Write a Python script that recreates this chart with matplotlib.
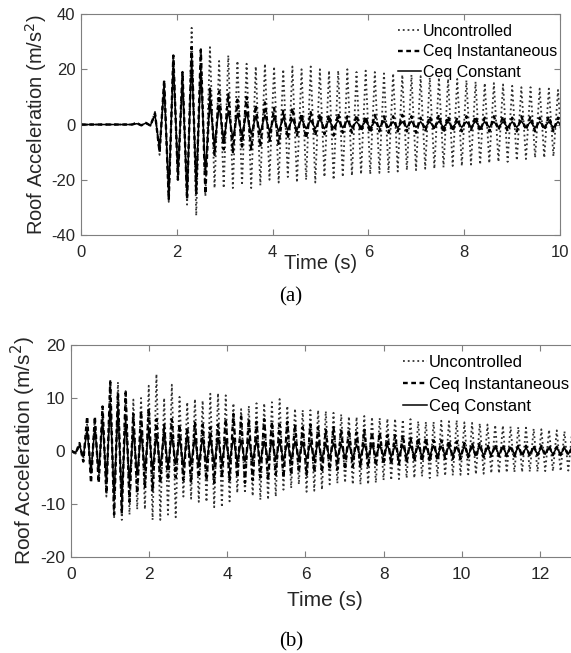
import numpy as np
import matplotlib.pyplot as plt

plt.rcParams['font.family'] = ['Liberation Sans', 'DejaVu Sans']
plt.rcParams['axes.unicode_minus'] = False

labels = ['Uncontrolled', 'Ceq Instantaneous', 'Ceq Constant']

# panel (a): time of first listed peak and oscillation period (s)
a_t0 = 0.971
a_period = 0.1912
# successive positive peaks / negative troughs per cycle (m/s^2)
a_unc_peaks = [0, 0.8, 0.6, 4.6, 16, 25, 19, 35, 28, 28, 23, 25, 23, 22, 21, 22, 21, 20, 21, 20,
               21, 20, 19.5, 19.5, 20, 19, 19.5, 19, 18.5, 18.5, 18, 18, 17.5, 17, 17, 16.5, 16.5,
               16, 15.5, 15, 15, 14.5, 14, 13.5, 13.5, 13, 13, 12.5, 12.5]
a_unc_troughs = [0, -0.4, -0.5, -11, -28, -20, -29, -33, -26, -23, -23, -23, -22, -23, -22, -20,
                 -21, -19, -21, -20, -21, -19, -20, -19, -18.5, -18, -18, -17.5, -17.5, -17, -16.5,
                 -16.5, -16, -16, -15.5, -15, -15, -14.5, -14.5, -14, -13.5, -13.5, -13, -12.5, -12,
                 -12, -11.5, -11.5]
a_ins_peaks = [0, 0.5, 0.6, 4, 16, 25, 19, 28, 27, 13, 12, 11, 9, 10, 7, 8, 6, 5, 6, 4, 4.5, 4,
               3.5, 4, 3, 3.5, 3, 3.5, 3, 3, 3.5, 3, 2.5, 3, 3.5, 3, 2.5, 3, 3, 2.5, 3, 3, 2.5, 3,
               3, 2.5, 3, 2.5, 2.5]
a_ins_troughs = [0, -0.3, -0.4, -10, -27, -20, -27, -25, -25, -11, -9, -10, -8, -9, -8, -6, -7, -5,
                 -4, -5, -4, -3.5, -4, -3, -3, -2.5, -3, -2.5, -3, -2.5, -2.5, -3, -2.5, -2, -3,
                 -2.5, -2.5, -2, -2.5, -2.5, -2, -2.5, -2.5, -2, -2.5, -2, -2.5, -2]
a_con_peaks = [0, 0.3, 0.5, 3.5, 14, 23, 17, 24, 20, 9, 7, 5, 4, 4.5, 3, 3.5, 2.5, 2.5, 2, 2, 1.5,
               2, 1.5, 1.5, 1.5, 1, 1.2, 1, 1.2, 1, 1, 1.2, 1, 1, 1.2, 1, 1, 1, 1.2, 1, 1, 1, 1,
               1.2, 1, 1, 1, 1, 1]
a_con_troughs = [0, -0.2, -0.3, -9, -25, -18, -26, -22, -18, -8, -6, -5, -4, -3.5, -3, -2.5, -2.5,
                 -2, -2, -1.5, -1.5, -1.5, -1.2, -1.2, -1, -1, -1.2, -1, -1, -1.2, -1, -1, -1,
                 -1.2, -1, -1, -1, -1, -1.2, -1, -1, -1, -1, -1, -1.2, -1, -1, -1]

# panel (b)
b_t0 = 0.02
b_period = 0.197
b_unc_peaks = [0, 1, 5, 6, 7.5, 13.5, 13, 11.3, 9.7, 10,
               12.3, 14.5, 10, 12.5, 10.2, 9.2, 9.8, 9.5, 10.8, 10.9,
               10.5, 9, 7.9, 8.5, 9, 9, 9.2, 9.8, 8.5, 8,
               7.7, 7.7, 7.7, 7.5, 7.2, 6.9, 6.5, 6.4, 6.6, 6.4,
               6.2, 6.1, 6.1, 5.9, 6, 5.6, 5.5, 5.5, 5.7, 5.6,
               5.8, 5.4, 5.3, 5.2, 5, 4.9, 4.8, 4.6, 4.5, 4.4,
               4.2, 4.1, 4, 3.9, 3.7, 3.6]
b_unc_troughs = [-0.5, -1.5, -4.5, -5.5, -8.6, -12.7, -13, -12, -11, -11,
                 -13, -13, -12, -12.5, -8.6, -9, -9.6, -9.6, -10.6, -10.6,
                 -9.5, -7.9, -8, -8.5, -9.2, -9.2, -8.6, -7.3, -7, -6.3,
                 -7.7, -7.5, -7.3, -6.3, -6.1, -6, -6.3, -6.3, -6.3, -6,
                 -5.5, -5.5, -5.3, -5.1, -5.1, -4.8, -5.1, -4.8, -4.7, -4.6,
                 -4.5, -4.4, -4.4, -4.3, -4.2, -4.2, -4.1, -4, -4, -3.9,
                 -3.9, -3.8, -3.8, -3.8, -3.7, -3.7]
b_ins_peaks = [0, 1.5, 6.5, 6.5, 8.4, 13, 11, 11, 7, 7.5,
               8, 6, 5, 6, 5, 4.5, 5.5, 5, 4.5, 5,
               6, 7, 6.5, 6, 5.5, 6, 5.5, 5, 5.5, 5,
               4.5, 5, 4.5, 4, 4.5, 4, 4, 3.5, 4, 3.5,
               3.5, 3, 3, 3, 2.5, 2.5, 2.5, 2, 2, 2,
               1.8, 1.5, 1.5, 1.5, 1.2, 1.2, 1.2, 1, 1, 1,
               1, 1, 1, 0.8, 0.8, 0.8]
b_ins_troughs = [-0.5, -2, -6, -6, -8, -12, -11.8, -9.6, -8, -7,
                 -7.5, -6, -5.5, -5, -5.5, -6, -5, -5.5, -6, -5,
                 -5.5, -5, -6, -5.5, -5, -5.5, -4.5, -5, -4.5, -4,
                 -4.5, -4, -4, -3.5, -3.5, -3.5, -3, -3, -3, -2.8,
                 -2.5, -2.5, -2.5, -2.2, -2, -2, -2, -1.8, -1.5, -1.5,
                 -1.5, -1.2, -1.2, -1.2, -1, -1, -1, -1, -1, -1,
                 -0.8, -0.8, -0.8, -0.8, -0.8, -0.8]
b_con_peaks = [0, 1, 4, 4.5, 6, 9, 8, 6, 4, 3.5,
               4, 3, 3.5, 3, 2.5, 3, 2.5, 2.5, 2.8, 2.5,
               2.2, 2.5, 2, 2.2, 2, 1.8, 2, 1.8, 1.6, 1.8,
               1.6, 1.5, 1.6, 1.4, 1.5, 1.3, 1.4, 1.2, 1.3, 1.2,
               1.1, 1.2, 1, 1.1, 1, 1, 0.9, 1, 0.9, 0.9,
               0.8, 0.9, 0.8, 0.8, 0.7, 0.8, 0.7, 0.7, 0.7, 0.6,
               0.7, 0.6, 0.6, 0.6, 0.6, 0.6]
b_con_troughs = [-0.3, -1, -4, -4, -6, -8.5, -9, -6, -4.5, -3.5,
                 -3.5, -3, -3, -2.5, -3, -2.5, -2.5, -2.2, -2.5, -2.2,
                 -2, -2.2, -2, -1.8, -2, -1.8, -1.6, -1.8, -1.6, -1.5,
                 -1.5, -1.4, -1.5, -1.3, -1.3, -1.2, -1.3, -1.2, -1.1, -1.1,
                 -1, -1.1, -1, -1, -0.9, -1, -0.9, -0.9, -0.8, -0.9,
                 -0.8, -0.8, -0.7, -0.8, -0.7, -0.7, -0.7, -0.6, -0.7, -0.6,
                 -0.6, -0.6, -0.6, -0.6, -0.6, -0.6]

styles = [dict(color='0.2', ls=':', lw=1.3),
          dict(color='k', ls=(0, (2, 1.5)), lw=1.7),
          dict(color='k', ls='-', lw=1.1)]
GRAY = '#7f7f7f'


def zigzag(t0, period, peaks, troughs):
    y = [0.0]
    for p, q in zip(peaks, troughs):
        y += [p, q]
    t = np.r_[0.0, t0 + 0.5 * period * np.arange(len(y) - 1)]
    return t, np.array(y)


def panel(ax, t0, period, series, xmax, xticks, ylim, yticks,
          fs_tick, fs_lab, fs_leg, leg_space, leg_x, xlab_y, ylab_x):
    for (pk, tr), lab, st in zip(series, labels, styles):
        t, y = zigzag(t0, period, pk, tr)
        ax.plot(t, y, label=lab, **st)
    ax.set_xlim(0, xmax)
    ax.set_ylim(*ylim)
    ax.set_xticks(xticks)
    ax.set_yticks(yticks)
    ax.tick_params(direction='in', top=True, right=True, length=4, width=0.8,
                   color=GRAY, labelcolor='#262626', labelsize=fs_tick)
    ax.tick_params(axis='x', pad=7)
    ax.tick_params(axis='y', pad=4)
    for s in ax.spines.values():
        s.set_color(GRAY)
        s.set_linewidth(0.8)
    ax.set_xlabel('Time (s)', fontsize=fs_lab, color='#262626', va='center')
    ax.xaxis.set_label_coords(0.5, xlab_y)
    ax.set_ylabel('Roof Acceleration (m/s$^2$)', fontsize=fs_lab, color='#262626', va='center')
    ax.yaxis.set_label_coords(ylab_x, 0.5)
    ax.legend(loc='upper right', bbox_to_anchor=(leg_x, 1.0), frameon=False, fontsize=fs_leg,
              handlelength=1.45, handletextpad=0.1, labelspacing=leg_space,
              borderaxespad=0.42, borderpad=0.2)


fig = plt.figure(figsize=(5.71, 6.53), dpi=100)

ax1 = fig.add_axes([0.1419, 0.6401, 0.8389, 0.3384])
panel(ax1, a_t0, a_period,
      [(a_unc_peaks, a_unc_troughs), (a_ins_peaks, a_ins_troughs), (a_con_peaks, a_con_troughs)],
      10, [0, 2, 4, 6, 8, 10], (-40, 40), [-40, -20, 0, 20, 40],
      12, 14.5, 11.5, 0.34, 1.015, -0.127, -0.094)

ax2 = fig.add_axes([0.1243, 0.1470, 0.8897, 0.3247])
panel(ax2, b_t0, b_period,
      [(b_unc_peaks, b_unc_troughs), (b_ins_peaks, b_ins_troughs), (b_con_peaks, b_con_troughs)],
      13, [0, 2, 4, 6, 8, 10, 12], (-20, 20), [-20, -10, 0, 10, 20],
      12.5, 15, 12, 0.41, 1.0, -0.203, -0.094)

fig.text(291 / 571, 1 - 297 / 653, '(a)', family='Liberation Serif', fontsize=15,
         ha='center', va='center')
fig.text(291.5 / 571, 1 - 642 / 653, '(b)', family='Liberation Serif', fontsize=15,
         ha='center', va='center')

fig.savefig('out.png', dpi=100)
